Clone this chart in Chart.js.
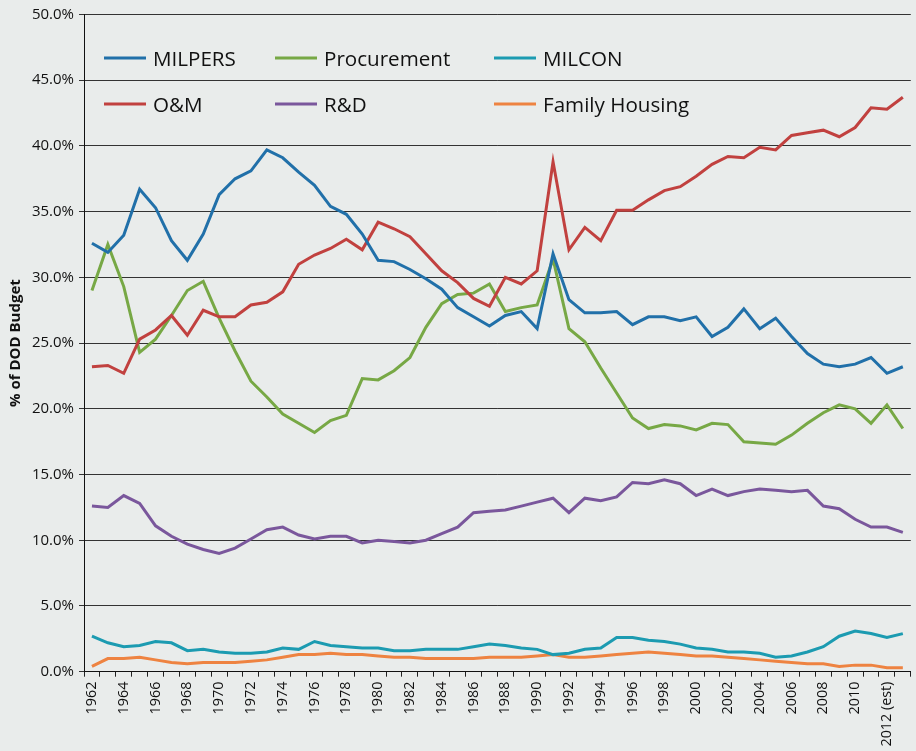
<!DOCTYPE html>
<html>
<head>
<meta charset="utf-8">
<script src="https://cdn.jsdelivr.net/npm/chart.js@4.4.1/dist/chart.umd.min.js"></script>
<style>
  html, body { margin: 0; padding: 0; background: #e9eceb; overflow: hidden; }
  #wrap { width: 925px; height: 751px; }
</style>
</head>
<body>
<div id="wrap"><canvas id="chart-dod-budget" width="925" height="751"></canvas></div>
<script>
const years = ['1962', '1963', '1964', '1965', '1966', '1967', '1968', '1969', '1970', '1971',
    '1972', '1973', '1974', '1975', '1976', '1977', '1978', '1979', '1980', '1981',
    '1982', '1983', '1984', '1985', '1986', '1987', '1988', '1989', '1990', '1991',
    '1992', '1993', '1994', '1995', '1996', '1997', '1998', '1999', '2000', '2001',
    '2002', '2003', '2004', '2005', '2006', '2007', '2008', '2009', '2010', '2011',
    '2012 (est)', '2013 (est)'];

const milpers = [32.6, 31.9, 33.2, 36.7, 35.3, 32.8, 31.3, 33.3, 36.3, 37.5,
    38.1, 39.7, 39.1, 38.0, 37.0, 35.4, 34.8, 33.3, 31.3, 31.2,
    30.6, 29.9, 29.1, 27.7, 27.0, 26.3, 27.1, 27.4, 26.1, 31.8,
    28.3, 27.3, 27.3, 27.4, 26.4, 27.0, 27.0, 26.7, 27.0, 25.5,
    26.2, 27.6, 26.1, 26.9, 25.5, 24.2, 23.4, 23.2, 23.4, 23.9,
    22.7, 23.2];

const om = [23.2, 23.3, 22.7, 25.3, 26.0, 27.1, 25.6, 27.5, 27.0, 27.0,
    27.9, 28.1, 28.9, 31.0, 31.7, 32.2, 32.9, 32.1, 34.2, 33.7,
    33.1, 31.8, 30.5, 29.6, 28.4, 27.8, 30.0, 29.5, 30.5, 38.8,
    32.1, 33.8, 32.8, 35.1, 35.1, 35.9, 36.6, 36.9, 37.7, 38.6,
    39.2, 39.1, 39.9, 39.7, 40.8, 41.0, 41.2, 40.7, 41.4, 42.9,
    42.8, 43.7];

const procurement = [29.0, 32.5, 29.3, 24.3, 25.3, 27.1, 29.0, 29.7, 26.9, 24.4,
    22.1, 20.9, 19.6, 18.9, 18.2, 19.1, 19.5, 22.3, 22.2, 22.9,
    23.9, 26.2, 28.0, 28.7, 28.8, 29.5, 27.4, 27.7, 27.9, 31.4,
    26.1, 25.1, 23.1, 21.2, 19.3, 18.5, 18.8, 18.7, 18.4, 18.9,
    18.8, 17.5, 17.4, 17.3, 18.0, 18.9, 19.7, 20.3, 20.0, 18.9,
    20.3, 18.5];

const rd = [12.6, 12.5, 13.4, 12.8, 11.1, 10.3, 9.7, 9.3, 9.0, 9.4,
    10.1, 10.8, 11.0, 10.4, 10.1, 10.3, 10.3, 9.8, 10.0, 9.9,
    9.8, 10.0, 10.5, 11.0, 12.1, 12.2, 12.3, 12.6, 12.9, 13.2,
    12.1, 13.2, 13.0, 13.3, 14.4, 14.3, 14.6, 14.3, 13.4, 13.9,
    13.4, 13.7, 13.9, 13.8, 13.7, 13.8, 12.6, 12.4, 11.6, 11.0,
    11.0, 10.6];

const milcon = [2.7, 2.2, 1.9, 2.0, 2.3, 2.2, 1.6, 1.7, 1.5, 1.4,
    1.4, 1.5, 1.8, 1.7, 2.3, 2.0, 1.9, 1.8, 1.8, 1.6,
    1.6, 1.7, 1.7, 1.7, 1.9, 2.1, 2.0, 1.8, 1.7, 1.3,
    1.4, 1.7, 1.8, 2.6, 2.6, 2.4, 2.3, 2.1, 1.8, 1.7,
    1.5, 1.5, 1.4, 1.1, 1.2, 1.5, 1.9, 2.7, 3.1, 2.9,
    2.6, 2.9];

const familyHousing = [0.4, 1.0, 1.0, 1.1, 0.9, 0.7, 0.6, 0.7, 0.7, 0.7,
    0.8, 0.9, 1.1, 1.3, 1.3, 1.4, 1.3, 1.3, 1.2, 1.1,
    1.1, 1.0, 1.0, 1.0, 1.0, 1.1, 1.1, 1.1, 1.2, 1.3,
    1.1, 1.1, 1.2, 1.3, 1.4, 1.5, 1.4, 1.3, 1.2, 1.2,
    1.1, 1.0, 0.9, 0.8, 0.7, 0.6, 0.6, 0.4, 0.5, 0.5,
    0.3, 0.3];

const yTicks = [0, 5, 10, 15, 20, 25, 30, 35, 40, 45, 50];

const FONT = "'Open Sans', 'Noto Sans', sans-serif";

// legend drawn inside the plot, two rows of three like the original
const legendInside = {
    id: 'legendInside',
    afterDatasetsDraw(chart) {
        const ctx = chart.ctx;
        const cols = [104, 275, 494];
        const rows = [58, 104];
        const order = ['MILPERS', 'Procurement', 'MILCON', 'O&M', 'R&D', 'Family Housing'];
        ctx.save();
        ctx.font = '20.6px ' + FONT;
        ctx.fillStyle = '#111';
        ctx.textBaseline = 'alphabetic';
        order.forEach((name, i) => {
            const ds = chart.data.datasets.find(d => d.label === name);
            const x = cols[i % 3];
            const y = rows[Math.floor(i / 3)];
            ctx.strokeStyle = ds.borderColor;
            ctx.lineWidth = 3;
            ctx.beginPath();
            ctx.moveTo(x, y);
            ctx.lineTo(x + 42, y);
            ctx.stroke();
            ctx.fillText(name, x + 49, y + 7.5);
        });
        ctx.restore();
    }
};

function loadChartDodBudget() {
    const ctx = document.getElementById('chart-dod-budget').getContext('2d');
    const line = (label, data, color) => ({
        label: label,
        data: data,
        borderColor: color,
        backgroundColor: color,
        borderWidth: 3,
        pointRadius: 0,
        tension: 0,
        fill: false
    });
    const myChart = new Chart(ctx, {
        type: 'line',
        data: {
            labels: years,
            datasets: [
                line('MILPERS', milpers, '#2170a9'),
                line('O&M', om, '#c1413f'),
                line('Procurement', procurement, '#77a845'),
                line('R&D', rd, '#7a579c'),
                line('MILCON', milcon, '#1c9bb1'),
                line('Family Housing', familyHousing, '#ee8341')
            ]
        },
        options: {
            responsive: false,
            animation: false,
            devicePixelRatio: 1,
            layout: { padding: { top: 14.5, right: 0, left: 0, bottom: 0 } },
            plugins: {
                legend: { display: false },
                tooltip: { enabled: false }
            },
            scales: {
                x: {
                    offset: true,
                    grid: {
                        offset: true,
                        drawOnChartArea: false,
                        drawTicks: true,
                        tickLength: 5,
                        color: '#222'
                    },
                    border: { color: '#111', width: 1 },
                    ticks: {
                        autoSkip: false,
                        minRotation: 90,
                        maxRotation: 90,
                        padding: 5,
                        color: '#111',
                        font: { family: FONT, size: 14.3 },
                        callback: (val, idx) => idx % 2 === 0 ? years[idx] : ''
                    },
                    afterFit: (scale) => { scale.height = 79.3; }
                },
                y: {
                    min: 0,
                    max: 50,
                    afterBuildTicks: (scale) => { scale.ticks = yTicks.map(v => ({ value: v })); },
                    grid: {
                        color: '#333',
                        lineWidth: 1,
                        drawTicks: true,
                        tickLength: 5
                    },
                    border: { color: '#111', width: 1 },
                    ticks: {
                        padding: 5,
                        color: '#111',
                        font: { family: FONT, size: 15 },
                        callback: (v) => v.toFixed(1) + '%'
                    },
                    title: {
                        display: true,
                        text: '% of DOD Budget',
                        color: '#111',
                        padding: { top: 7, bottom: 0 },
                        font: { family: FONT, size: 15, weight: 'bold' }
                    },
                    afterFit: (scale) => { scale.width = 84; }
                }
            }
        },
        plugins: [legendInside]
    });
}

loadChartDodBudget();
</script>
</body>
</html>
